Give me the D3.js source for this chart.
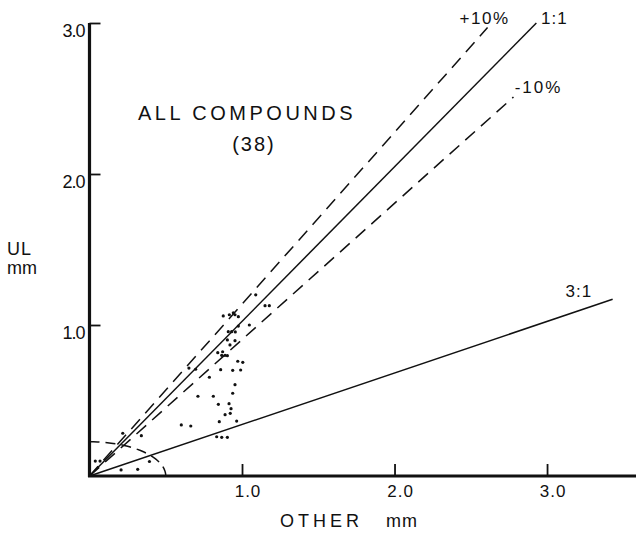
<!DOCTYPE html>
<html>
<head>
<meta charset="utf-8">
<style>
  body { margin: 0; background: #fff; }
  svg text { font-family: "Liberation Sans", Arial, sans-serif; fill: #111; }
</style>
</head>
<body>
<svg id="chart" width="638" height="533"></svg>
<script src="https://d3js.org/d3.v7.min.js"></script>
<script>
// tick values on both axes
var xTicks = [1.0, 2.0, 3.0];
var yTicks = [1.0, 2.0, 3.0];

// reference lines, from the origin to their far end (data units)
var lineNames = ["+10%", "1:1", "-10%", "3:1"];
var lineEndX = [2.61, 2.93, 2.78, 3.43];
var lineEndY = [2.97, 3.0, 2.51, 1.17];

// scattered points (OTHER mm, UL mm)
var pointsX = [1.09, 1.151, 1.179, 0.877, 0.917, 0.943, 0.954, 0.976, 0.976, 1.048,
  0.910, 0.932, 0.956, 0.904, 0.954, 0.921, 0.841, 0.873, 0.867, 0.889,
  0.904, 0.972, 1.005, 0.652, 0.696, 0.860, 0.939, 0.991, 0.786, 0.954,
  0.711, 0.812, 0.939, 0.845, 0.915, 0.928, 0.889, 0.923, 0.851, 0.965,
  0.602, 0.664, 0.834, 0.867, 0.904, 0.218, 0.340, 0.038, 0.069, 0.393,
  0.207, 0.316];
var pointsY = [1.20, 1.128, 1.128, 1.060, 1.068, 1.081, 1.068, 1.055, 0.993, 1.000,
  0.956, 0.956, 0.954, 0.901, 0.896, 0.868, 0.817, 0.823, 0.799, 0.799,
  0.797, 0.760, 0.753, 0.715, 0.707, 0.704, 0.700, 0.702, 0.654, 0.605,
  0.528, 0.528, 0.548, 0.475, 0.479, 0.446, 0.406, 0.415, 0.360, 0.364,
  0.338, 0.331, 0.260, 0.256, 0.256, 0.283, 0.267, 0.099, 0.099, 0.096,
  0.040, 0.044];

// dashed limit curve near the origin (semi axes, data units)
var limitRx = 0.5;
var limitRy = 0.227;

var svg = d3.select("#chart");

var x = d3.scaleLinear().domain([0, 3.58]).range([89.5, 635.5]);
var y = d3.scaleLinear().domain([0, 3]).range([476, 23]);

// which reference lines are dashed
var lineDash = { "+10%": "13,8", "1:1": null, "-10%": "13,8", "3:1": null };

// reference lines
lineNames.forEach(function(name, i) {
  var l = svg.append("line")
    .attr("x1", x(0)).attr("y1", y(0))
    .attr("x2", x(lineEndX[i])).attr("y2", y(lineEndY[i]))
    .attr("stroke", "#111")
    .attr("stroke-width", 1.5);
  if (lineDash[name]) l.attr("stroke-dasharray", lineDash[name]);
});

// limit curve
var angles = d3.range(0, 91, 3).map(function(d) { return d * Math.PI / 180; });
svg.append("path")
  .datum(angles)
  .attr("d", d3.line()
    .x(function(a) { return x(limitRx * Math.sin(a)); })
    .y(function(a) { return y(limitRy * Math.cos(a)); }))
  .attr("fill", "none")
  .attr("stroke", "#111")
  .attr("stroke-width", 1.5)
  .attr("stroke-dasharray", "10,6");

// points
svg.selectAll("circle.pt")
  .data(pointsX)
  .enter().append("circle")
  .attr("class", "pt")
  .attr("cx", function(d) { return x(d); })
  .attr("cy", function(d, i) { return y(pointsY[i]); })
  .attr("r", 1.6)
  .attr("fill", "#111");

// line labels
var labels = svg.append("g").attr("font-size", 17);
labels.append("text").attr("x", x(lineEndX[0]) - 3).attr("y", y(lineEndY[0]) - 4)
  .attr("text-anchor", "middle").attr("letter-spacing", 1.5).text(lineNames[0]);
labels.append("text").attr("x", x(lineEndX[1]) + 18).attr("y", y(lineEndY[1]) + 1)
  .attr("text-anchor", "middle").attr("letter-spacing", 1).text(lineNames[1]);
labels.append("text").attr("x", x(lineEndX[2]) + 25).attr("y", y(lineEndY[2]) - 4)
  .attr("text-anchor", "middle").attr("letter-spacing", 2).text(lineNames[2]);
labels.append("text").attr("x", x(lineEndX[3]) - 47).attr("y", y(lineEndY[3]) - 2)
  .attr("text-anchor", "start").attr("letter-spacing", 1).text(lineNames[3]);

// y axis
var yAxis = svg.append("g")
  .attr("transform", "translate(" + x(0) + ",0)")
  .call(d3.axisRight(y).tickValues(yTicks).tickSize(11).tickFormat(""));
yAxis.select(".domain").remove();
yAxis.selectAll(".tick line").attr("stroke", "#111").attr("stroke-width", 1.8);
svg.append("line")
  .attr("x1", x(0)).attr("x2", x(0))
  .attr("y1", y(3)).attr("y2", y(0) + 1)
  .attr("stroke", "#111").attr("stroke-width", 3.2);
svg.selectAll("text.ylab")
  .data(yTicks)
  .enter().append("text")
  .attr("class", "ylab")
  .attr("x", x(0) - 5)
  .attr("y", function(d) { return y(d) + 14; })
  .attr("text-anchor", "end")
  .attr("font-size", 18)
  .attr("letter-spacing", -1)
  .text(function(d) { return d.toFixed(1); });

// x axis
var xAxis = svg.append("g")
  .attr("transform", "translate(0," + y(0) + ")")
  .call(d3.axisTop(x).tickValues(xTicks).tickSize(12).tickFormat(""));
xAxis.select(".domain").remove();
xAxis.selectAll(".tick line").attr("stroke", "#111").attr("stroke-width", 1.8);
svg.append("line")
  .attr("x1", x(0) - 1.5).attr("x2", 636)
  .attr("y1", y(0)).attr("y2", y(0))
  .attr("stroke", "#111").attr("stroke-width", 2.8);
svg.selectAll("text.xlab")
  .data(xTicks)
  .enter().append("text")
  .attr("class", "xlab")
  .attr("x", function(d) { return x(d) + 6; })
  .attr("y", y(0) + 21)
  .attr("text-anchor", "middle")
  .attr("font-size", 17)
  .attr("letter-spacing", 1)
  .text(function(d) { return d.toFixed(1); });

// axis titles
svg.append("text").attr("x", 280).attr("y", 527)
  .attr("font-size", 18).attr("letter-spacing", 4).text("OTHER");
svg.append("text").attr("x", 386).attr("y", 527)
  .attr("font-size", 18).attr("letter-spacing", 1).text("mm");
svg.append("text").attr("x", 7).attr("y", 255)
  .attr("font-size", 18).attr("letter-spacing", 1).text("UL");
svg.append("text").attr("x", 7).attr("y", 274)
  .attr("font-size", 18).text("mm");

// annotation
svg.append("text").attr("x", 247).attr("y", 120)
  .attr("text-anchor", "middle").attr("font-size", 20).attr("letter-spacing", 3.5)
  .text("ALL COMPOUNDS");
svg.append("text").attr("x", 254).attr("y", 151)
  .attr("text-anchor", "middle").attr("font-size", 20).attr("letter-spacing", 2)
  .text("(38)");
</script>
</body>
</html>
